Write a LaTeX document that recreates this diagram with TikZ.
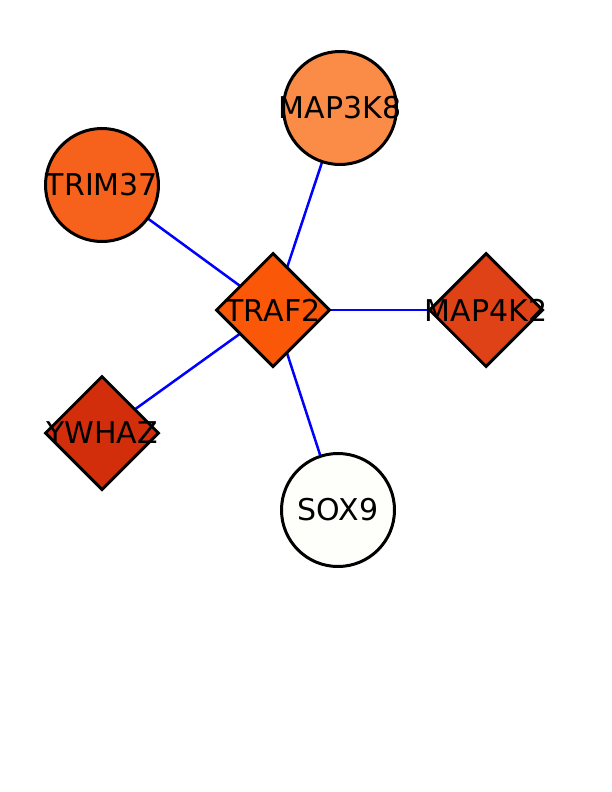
\documentclass[tikz,border=0pt]{standalone}
\usepackage{fontspec}
\setmainfont{DejaVu Sans}
\usepackage{tikz}
\usetikzlibrary{shapes.geometric}
\pgfdeclarelayer{edgelayer}
\pgfsetlayers{edgelayer,main}

\tikzset{
  gene/.style={draw=black,line width=3pt,inner sep=0pt,
    label={[font=\fontsize{30}{32}\selectfont,text=black]center:#1}},
  roundgene/.style={gene=#1,circle,minimum size=113pt},
  diagene/.style={gene=#1,diamond,minimum size=114pt},
  link/.style={draw={rgb,255:red,0;green,0;blue,255},line width=2.5pt}
}

\begin{document}
\begin{tikzpicture}[x=1pt,y=-1pt]
  \definecolor{ctraf}{RGB}{250,88,8}
  \definecolor{cmapk}{RGB}{250,140,72}
  \definecolor{ctrim}{RGB}{246,98,28}
  \definecolor{cmapf}{RGB}{222,66,22}
  \definecolor{cywh}{RGB}{210,46,12}
  \definecolor{csox}{RGB}{254,254,251}
  \useasboundingbox (0,0) rectangle (612,792);
  \node[diagene=TRAF2,fill=ctraf] (traf2) at (273,310) {};
  \node[roundgene=MAP3K8,fill=cmapk] (map3k8) at (340,108) {};
  \node[roundgene=TRIM37,fill=ctrim] (trim37) at (102,185) {};
  \node[roundgene=SOX9,fill=csox] (sox9) at (338,510) {};
  \node[diagene=MAP4K2,fill=cmapf] (map4k2) at (486,310) {};
  \node[diagene=YWHAZ,fill=cywh] (ywhaz) at (102,433) {};
  % edges go under the nodes
  \begin{pgfonlayer}{edgelayer}
    \foreach \nb in {map3k8,trim37,map4k2,ywhaz,sox9}{%
      \draw[link] (traf2.center) -- (\nb.center);
    }
  \end{pgfonlayer}
\end{tikzpicture}
\end{document}
